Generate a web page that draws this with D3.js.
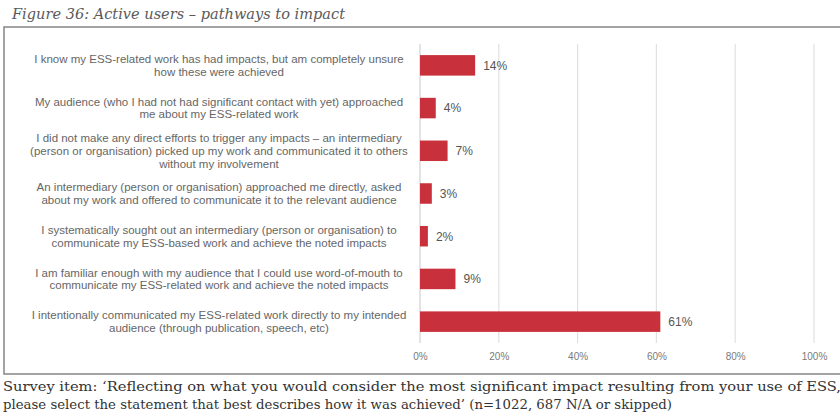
<!DOCTYPE html>
<html>
<head>
<meta charset="utf-8">
<script src="https://cdn.jsdelivr.net/npm/d3@7"></script>
<style>
  html, body { margin: 0; padding: 0; background: #fff; }
  svg { display: block; }
</style>
</head>
<body>
<svg id="chart" width="840" height="414"></svg>
<script>
// Response options (line breaks as they wrap on the axis)
const categories = [
  "I know my ESS-related work has had impacts, but am completely unsure\nhow these were achieved",
  "My audience (who I had not had significant contact with yet) approached\nme about my ESS-related work",
  "I did not make any direct efforts to trigger any impacts \u2013 an intermediary\n(person or organisation) picked up my work and communicated it to others\nwithout my involvement",
  "An intermediary (person or organisation) approached me directly, asked\nabout my work and offered to communicate it to the relevant audience",
  "I systematically sought out an intermediary (person or organisation) to\ncommunicate my ESS-based work and achieve the noted impacts",
  "I am familiar enough with my audience that I could use word-of-mouth to\ncommunicate my ESS-related work and achieve the noted impacts",
  "I intentionally communicated my ESS-related work directly to my intended\naudience (through publication, speech, etc)"
];
// Share of respondents, percent
const shares = [14, 4, 7, 3, 2, 9, 61];
const xTicks = [0, 20, 40, 60, 80, 100];

const titleText = "Figure 36: Active users \u2013 pathways to impact";
const noteLines = [
  "Survey item: \u2018Reflecting on what you would consider the most significant impact resulting from your use of ESS,",
  "please select the statement that best describes how it was achieved\u2019 (n=1022, 687 N/A or skipped)"
];
const noteWidths = [838, 669];

const svg = d3.select("#chart");
const data = categories.map((c, i) => ({ label: c, value: shares[i] }));

// Framed panel
svg.append("rect")
  .attr("x", 4).attr("y", 27)
  .attr("width", 850).attr("height", 347)
  .attr("fill", "#fff")
  .attr("stroke", "#8c8c8c")
  .attr("stroke-width", 1.6);

// Title
svg.append("text")
  .attr("x", 12).attr("y", 19)
  .attr("font-family", "DejaVu Serif, Georgia, serif")
  .attr("font-style", "italic")
  .attr("font-size", 15)
  .attr("fill", "#5a5a5a")
  .attr("textLength", 333)
  .attr("lengthAdjust", "spacingAndGlyphs")
  .text(titleText);

const x = d3.scaleLinear().domain([0, 100]).range([420, 814]);
const y = d3.scaleBand()
  .domain(d3.range(categories.length))
  .range([44, 343])
  .paddingInner(0.52)
  .paddingOuter(0.26);

// Vertical gridlines
svg.append("g")
  .selectAll("line")
  .data(xTicks)
  .join("line")
  .attr("x1", d => x(d)).attr("x2", d => x(d))
  .attr("y1", 44).attr("y2", 343)
  .attr("stroke", d => d === 0 ? "#d0d0d0" : "#e1e1e1")
  .attr("stroke-width", 1.2);

// Tick labels along the bottom
const xAxis = d3.axisBottom(x)
  .tickValues(xTicks)
  .tickFormat(d => d + "%")
  .tickSize(0)
  .tickPadding(0);
const gx = svg.append("g")
  .attr("transform", "translate(0,353)")
  .call(xAxis);
gx.select(".domain").remove();
gx.selectAll("text")
  .attr("font-family", "Liberation Sans, Arial, sans-serif")
  .attr("font-size", 10)
  .attr("fill", "#7a7a7a");

// Bars
svg.append("g")
  .selectAll("rect")
  .data(data)
  .join("rect")
  .attr("x", x(0))
  .attr("y", (d, i) => y(i))
  .attr("width", d => x(d.value) - x(0))
  .attr("height", y.bandwidth())
  .attr("fill", "#c8303c");

// Value labels
svg.append("g")
  .selectAll("text")
  .data(data)
  .join("text")
  .attr("x", d => x(d.value) + 8)
  .attr("y", (d, i) => y(i) + y.bandwidth() / 2)
  .attr("dy", "0.36em")
  .attr("font-family", "Liberation Sans, Arial, sans-serif")
  .attr("font-size", 12)
  .attr("fill", "#555")
  .text(d => d.value + "%");

// Category labels, centred and wrapped
const lineH = 12.7;
const labels = svg.append("g")
  .selectAll("text")
  .data(data)
  .join("text")
  .attr("text-anchor", "middle")
  .attr("font-family", "Liberation Sans, Arial, sans-serif")
  .attr("font-size", 11.5)
  .attr("fill", "#666");
labels.each(function (d, i) {
  const lines = d.label.split("\n");
  const cy = y(i) + y.bandwidth() / 2;
  const top = cy - (lines.length - 1) * lineH / 2;
  d3.select(this).selectAll("tspan")
    .data(lines)
    .join("tspan")
    .attr("x", 219)
    .attr("y", (l, k) => top + k * lineH)
    .attr("dy", "0.35em")
    .text(l => l);
});

// Survey note beneath the panel
svg.append("g")
  .selectAll("text")
  .data(noteLines)
  .join("text")
  .attr("x", 3)
  .attr("y", (d, i) => 391 + i * 18)
  .attr("font-family", "DejaVu Serif, Georgia, serif")
  .attr("font-size", 13.5)
  .attr("fill", "#333")
  .attr("textLength", (d, i) => noteWidths[i])
  .attr("lengthAdjust", "spacingAndGlyphs")
  .text(d => d);
</script>
</body>
</html>
